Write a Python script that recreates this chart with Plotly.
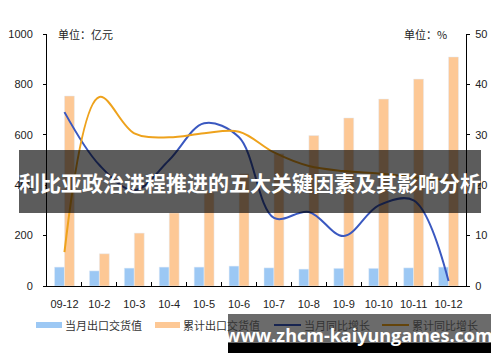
import plotly.graph_objects as go

categories = ["09-12", "10-2", "10-3", "10-4", "10-5", "10-6", "10-7", "10-8", "10-9", "10-10", "10-11", "10-12"]
monthly_value = [75, 60, 71, 75, 75, 79, 72, 67, 70, 70, 72, 75]
cumulative_value = [754, 128, 210, 290, 370, 445, 525, 597, 667, 742, 821, 909]
monthly_growth = [34.5, 24, 19, 25, 32.3, 29.5, 13.5, 14.7, 9.9, 16, 17, 1]
cumulative_growth = [6.7, 37.5, 30.3, 29.5, 30.3, 30.6, 26.5, 23.8, 22.8, 22.3, 21.6, 21]
left_ticks = [0, 200, 400, 600, 800, 1000]
right_ticks = [0, 10, 20, 30, 40, 50]

BLUE_BAR = "#9cc8f4"
ORANGE_BAR = "#fdc895"
BLUE_LINE = "#3a58c0"
ORANGE_LINE = "#eea21c"
CJK = "Noto Sans CJK SC"
LAT = "Liberation Sans"

# page-level target geometry (page has an 8px body margin)
OFF = 8
W, H = 500 - OFF, 362 - OFF
L, R, T, B = 47, 466, 34, 286  # plot area in page pixels


def px(x):
    return (x - L) / (R - L)


def py(y):
    return (B - y) / (B - T)


fig = go.Figure()
fig.add_trace(go.Bar(x=categories, y=monthly_value, marker_color=BLUE_BAR, name="当月出口交货值", showlegend=False))
fig.add_trace(go.Bar(x=categories, y=cumulative_value, marker_color=ORANGE_BAR, name="累计出口交货值", showlegend=False))
fig.add_trace(go.Scatter(x=categories, y=monthly_growth, yaxis="y2", mode="lines",
                         line=dict(color=BLUE_LINE, width=2, shape="spline", smoothing=1.0),
                         name="当月同比增长", showlegend=False))
fig.add_trace(go.Scatter(x=categories, y=cumulative_growth, yaxis="y2", mode="lines",
                         line=dict(color=ORANGE_LINE, width=2, shape="spline", smoothing=1.0),
                         name="累计同比增长", showlegend=False))

shapes = []
annotations = []

# unit labels
annotations.append(dict(text="单位：亿元", x=px(56), y=py(34), xref="paper", yref="paper",
                        xanchor="left", yanchor="middle", showarrow=False,
                        font=dict(family=CJK, size=11, color="#222")))
annotations.append(dict(text="单位：%", x=px(449), y=py(34), xref="paper", yref="paper",
                        xanchor="right", yanchor="middle", showarrow=False,
                        font=dict(family=CJK, size=11, color="#222")))

# manual legend
legend_items = [
    ("rect", BLUE_BAR, 36, 62, "当月出口交货值"),
    ("rect", ORANGE_BAR, 155, 180, "累计出口交货值"),
    ("line", BLUE_LINE, 274, 301, "当月同比增长"),
    ("line", ORANGE_LINE, 382, 409, "累计同比增长"),
]
LY = 325
for kind, color, x0, x1, label in legend_items:
    if kind == "rect":
        shapes.append(dict(type="rect", xref="paper", yref="paper", x0=px(x0), x1=px(x1),
                           y0=py(LY + 3), y1=py(LY - 3), fillcolor=color, line=dict(width=0)))
    else:
        shapes.append(dict(type="line", xref="paper", yref="paper", x0=px(x0), x1=px(x1),
                           y0=py(LY), y1=py(LY), line=dict(color=color, width=2)))
    annotations.append(dict(text=label, x=px(x1 + 1), y=py(LY), xref="paper", yref="paper",
                            xanchor="left", yanchor="middle", showarrow=False,
                            font=dict(family=CJK, size=11, color="#333")))

# overlay banner
shapes.append(dict(type="rect", xref="paper", yref="paper", x0=px(19), x1=px(481),
                   y0=py(213), y1=py(150), fillcolor="rgba(0,0,0,0.64)", line=dict(width=0), layer="above"))
annotations.append(dict(text="<b>利比亚政治进程推进的五大关键因素及其影响分析</b>", x=px(250), y=py(182),
                        xref="paper", yref="paper", xanchor="center", yanchor="middle", showarrow=False,
                        font=dict(family=CJK, size=21, color="white")))

# watermark
shapes.append(dict(type="rect", xref="paper", yref="paper", x0=px(228), x1=px(491),
                   y0=py(343), y1=py(314), fillcolor="rgba(0,0,0,0.58)", line=dict(width=0), layer="above"))
shapes.append(dict(type="rect", xref="paper", yref="paper", x0=px(228), x1=px(491),
                   y0=py(353), y1=py(343), fillcolor="black", line=dict(width=0), layer="above"))
annotations.append(dict(text="<b>www.zhcm-kaiyungames.com</b>", x=px(359), y=py(335),
                        xref="paper", yref="paper", xanchor="center", yanchor="middle", showarrow=False,
                        font=dict(family="Open Sans", size=18, color="white")))

fig.update_layout(
    width=W, height=H,
    margin=dict(l=L - OFF, r=W - (R - OFF), t=T - OFF, b=H - (B - OFF), pad=0, autoexpand=False),
    paper_bgcolor="white", plot_bgcolor="white",
    barmode="group", bargap=0.43, bargroupgap=0,
    showlegend=False,
    font=dict(family=LAT, size=11, color="#222"),
    xaxis=dict(type="category", showline=True, linecolor="#000", linewidth=1,
               ticks="inside", ticklen=4, tickcolor="#000", tickson="boundaries",
               tickangle=0, automargin=False, ticklabelstandoff=8,
               showgrid=False, tickfont=dict(family=LAT, size=11, color="#222")),
    yaxis=dict(range=[0, 1000], tickvals=left_ticks, showline=True, linecolor="#000", linewidth=1,
               ticks="outside", ticklen=3, tickcolor="#000", showgrid=False, zeroline=False,
               automargin=False, ticklabelstandoff=8, tickfont=dict(family=LAT, size=11, color="#222")),
    yaxis2=dict(range=[0, 50], tickvals=right_ticks, overlaying="y", side="right",
                showline=True, linecolor="#000", linewidth=1, ticks="outside", ticklen=3,
                tickcolor="#000", showgrid=False, zeroline=False, automargin=False,
                ticklabelstandoff=3, tickfont=dict(family=LAT, size=11, color="#222")),
    shapes=shapes,
    annotations=annotations,
)

fig.write_html("out.html")
